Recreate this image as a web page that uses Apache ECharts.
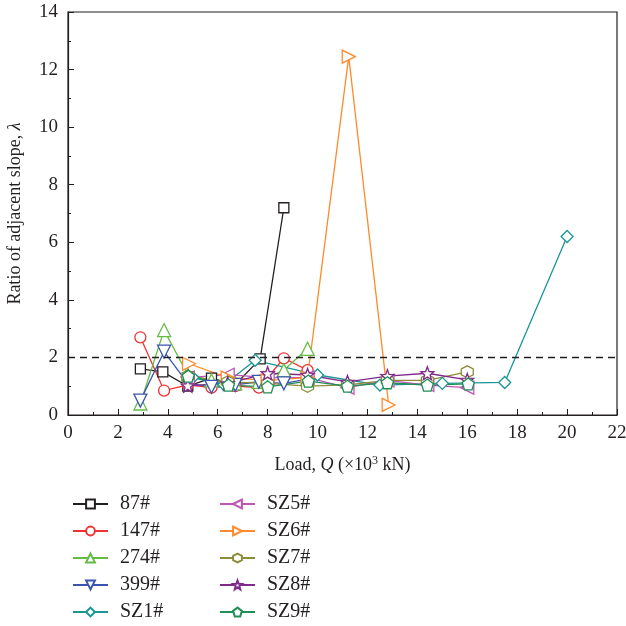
<!DOCTYPE html>
<html><head><meta charset="utf-8">
<script src="https://cdn.jsdelivr.net/npm/echarts@6/dist/echarts.min.js"></script>
<style>html,body{margin:0;padding:0;background:#fff}#c{width:626px;height:626px}</style>
</head><body><div id="c"></div>
<script>
// Series names
const names = ['87#','147#','274#','399#','SZ1#','SZ5#','SZ6#','SZ7#','SZ8#','SZ9#'];
// Loads (x10^3 kN) and ratio values for each series
const load87  = [2.9, 3.8, 4.8, 5.75, 6.7, 7.7, 8.65];
const val87   = [1.6, 1.5, 1.0, 1.28, 1.05, 1.95, 7.2];
const load147 = [2.9, 3.85, 4.8, 5.75, 6.7, 7.65, 8.65, 9.6];
const val147  = [2.7, 0.85, 1.05, 0.95, 1.0, 0.95, 1.97, 1.56];
const load274 = [2.9, 3.85, 4.8, 5.75, 6.7, 7.65, 8.65, 9.6];
const val274  = [0.4, 2.95, 1.4, 1.2, 1.1, 1.15, 1.56, 2.3];
const load399 = [2.9, 3.85, 4.8, 5.75, 6.7, 7.65, 8.65, 9.6];
const val399  = [0.5, 2.2, 1.1, 0.98, 1.05, 1.15, 1.1, 1.25];
const loadSZ1 = [5.0, 6.25, 7.5, 10.0, 12.5, 15.0, 17.5, 20.0];
const valSZ1  = [1.3, 1.05, 1.9, 1.39, 1.04, 1.1, 1.13, 6.2];
const loadSZ5 = [4.8, 6.4, 8.0, 9.6, 11.2, 12.8, 14.4, 16.0];
const valSZ5  = [1.3, 1.4, 1.3, 1.3, 0.95, 1.2, 1.04, 0.95];
const loadSZ6 = [4.85, 6.4, 8.0, 9.6, 11.25, 12.85];
const valSZ6  = [1.78, 1.3, 1.2, 1.3, 12.45, 0.35];
const loadSZ7 = [4.8, 6.4, 8.0, 9.6, 11.2, 12.8, 14.4, 16.0];
const valSZ7  = [1.35, 1.15, 1.1, 1.0, 1.05, 1.2, 1.2, 1.5];
const loadSZ8 = [4.8, 6.4, 8.0, 9.6, 11.2, 12.8, 14.4, 16.0];
const valSZ8  = [1.02, 1.1, 1.45, 1.39, 1.15, 1.35, 1.45, 1.22];
const loadSZ9 = [4.82, 6.43, 8.0, 9.63, 11.2, 12.8, 14.4, 16.04];
const valSZ9  = [1.35, 1.04, 0.98, 1.18, 1.0, 1.12, 1.04, 1.08];
const threshold = 2;
const xTicks = [0,2,4,6,8,10,12,14,16,18,20,22];
const yTicks = [0,2,4,6,8,10,12,14];

const loads = [load87,load147,load274,load399,loadSZ1,loadSZ5,loadSZ6,loadSZ7,loadSZ8,loadSZ9];
const vals  = [val87,val147,val274,val399,valSZ1,valSZ5,valSZ6,valSZ7,valSZ8,valSZ9];
const colors = ['#231f20','#ee3333','#66bb44','#3a55b0','#1a9696','#c055b5','#ff8a2a','#8c8c3a','#7f2a88','#1e8f55'];
const hex = 'path://M0,-1L0.866,-0.5L0.866,0.5L0,1L-0.866,0.5L-0.866,-0.5Z';
const pent = 'path://M0,-1L0.951,-0.309L0.588,0.809L-0.588,0.809L-0.951,-0.309Z';
function starPath(){let p=[];for(let i=0;i<10;i++){const r=i%2?0.42:1;const a=-Math.PI/2+i*Math.PI/5;p.push((r*Math.cos(a)).toFixed(3)+','+(r*Math.sin(a)).toFixed(3));}return 'path://M'+p.join('L')+'Z';}
const symbols = ['rect','circle','triangle','triangle','diamond','triangle','triangle',hex,starPath(),pent];
const rotates = [0,0,0,180,0,90,-90,0,0,0];
const sizes = [10,11,13,13,12,13,13,12,13,12];
const font = '"Liberation Serif", "DejaVu Serif", serif';

const series = names.map((n,i)=>({
  name:n, type:'line', data: loads[i].map((x,j)=>[x, vals[i][j]]),
  symbol: symbols[i], symbolRotate: rotates[i], symbolSize: sizes[i],
  lineStyle:{color:colors[i], width:1.3},
  itemStyle:{color:'#fff', borderColor:colors[i], borderWidth:1.3},
  emphasis:{disabled:true}, animation:false,
  markLine: i===0 ? {silent:true, symbol:'none', label:{show:false},
    lineStyle:{color:'#231f20', type:[7,5], width:1.3},
    data:[{yAxis:threshold}]} : undefined
}));

const legendBase = {orient:'vertical', itemWidth:35, itemHeight:11, itemGap:5, padding:0,
  textStyle:{fontFamily:font, fontSize:20, lineHeight:22, color:'#231f20', padding:[0,0,0,7]}, selectedMode:false};

const chart = echarts.init(document.getElementById('c'));
chart.setOption({
  animation:false,
  textStyle:{fontFamily:font},
  grid:{left:68, top:12, width:549, height:403, outerBoundsMode:'none', containLabel:false, show:true, borderColor:'#231f20', borderWidth:1.2, backgroundColor:'transparent'},
  legend:[
    Object.assign({left:72, top:493, data:names.slice(0,5)}, legendBase),
    Object.assign({left:219, top:493, data:names.slice(5)}, legendBase)
  ],
  xAxis:{type:'value', min:xTicks[0], max:xTicks[xTicks.length-1], interval:2,
    name:'{n|Load, }{i|Q}{n| (×10}{s|3}{n| kN)}', nameLocation:'middle', nameGap:40,
    nameTextStyle:{rich:{n:{fontFamily:font,fontSize:18,color:'#231f20'},i:{fontFamily:font,fontSize:18,fontStyle:'italic',color:'#231f20'},s:{fontFamily:font,fontSize:12,color:'#231f20',verticalAlign:'top',padding:[0,0,8,0]}}},
    axisLine:{lineStyle:{color:'#231f20',width:1.2}},
    axisTick:{inside:true,length:6,lineStyle:{color:'#231f20'}},
    minorTick:{show:true,splitNumber:2,length:3,lineStyle:{color:'#231f20'}},
    axisLabel:{fontFamily:font,fontSize:19,color:'#231f20',margin:9},
    splitLine:{show:false}},
  yAxis:{type:'value', min:yTicks[0], max:yTicks[yTicks.length-1], interval:2,
    name:'{n|Ratio of adjacent slope, }{i|λ}', nameLocation:'middle', nameGap:44,
    nameTextStyle:{rich:{n:{fontFamily:font,fontSize:18,color:'#231f20'},i:{fontFamily:font,fontSize:18,fontStyle:'italic',color:'#231f20'}}},
    axisLine:{lineStyle:{color:'#231f20',width:1.2}},
    axisTick:{inside:true,length:6,lineStyle:{color:'#231f20'}},
    minorTick:{show:true,splitNumber:2,length:3,lineStyle:{color:'#231f20'}},
    axisLabel:{fontFamily:font,fontSize:19,color:'#231f20',margin:10},
    splitLine:{show:false}},
  series: series
});
</script></body></html>
